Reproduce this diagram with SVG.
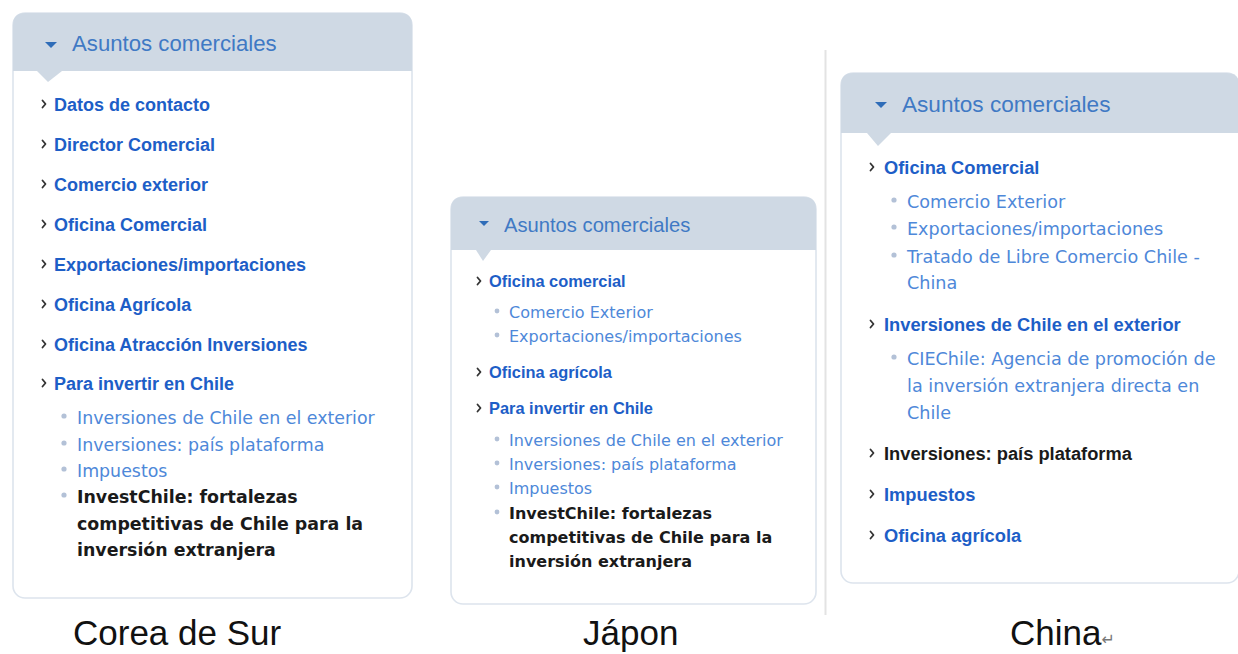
<svg xmlns="http://www.w3.org/2000/svg" width="1238" height="654" viewBox="0 0 1238 654">
<defs>
<style>
.panel{fill:#ffffff;stroke:#dde4ed;stroke-width:1.6}
.hdr{fill:#cfd9e4}
.harrow{fill:#2f6db8}
.htxt{font-family:"Liberation Sans",Arial,sans-serif;fill:#4079c4}
.main{font-family:"Liberation Sans",Arial,sans-serif;font-weight:bold;fill:#1d5ec7}
.mainb{font-family:"Liberation Sans",Arial,sans-serif;font-weight:bold;fill:#1a1a1a}
.sub{font-family:"DejaVu Sans",Verdana,sans-serif;fill:#4e88d9}
.subb{font-family:"DejaVu Sans",Verdana,sans-serif;font-weight:bold;fill:#1a1a1a}
.chev{fill:none;stroke:#333333;stroke-width:1.8;stroke-linecap:round;stroke-linejoin:round}
.bul{fill:#b3c1d7}
.cap{font-family:"Liberation Sans",Arial,sans-serif;font-size:35px;fill:#111111}
</style>
<path id="chv" class="chev" d="M-1.5,-3.5 L1.5,0 L-1.5,3.5"/>
</defs>
<rect width="1238" height="654" fill="#ffffff"/>
<line x1="825.5" y1="50" x2="825.5" y2="615" stroke="#e3e3e3" stroke-width="2"/>

<g id="corea">
<rect class="panel" x="13" y="13" width="399" height="585" rx="12"/>
<path class="hdr" d="M13,71 V25 Q13,13 25,13 H400 Q412,13 412,25 V71 Z"/>
<polygon class="hdr" points="37,71 62,71 48,82"/>
<polygon class="harrow" points="45,42 57,42 51,48"/>
<text class="htxt" x="72" y="51" font-size="22.2">Asuntos comerciales</text>
<g font-size="18">
<use href="#chv" x="44" y="104"/><text class="main" x="54" y="111">Datos de contacto</text>
<use href="#chv" x="44" y="144"/><text class="main" x="54" y="151">Director Comercial</text>
<use href="#chv" x="44" y="184"/><text class="main" x="54" y="191">Comercio exterior</text>
<use href="#chv" x="44" y="224"/><text class="main" x="54" y="231">Oficina Comercial</text>
<use href="#chv" x="44" y="264"/><text class="main" x="54" y="271">Exportaciones/importaciones</text>
<use href="#chv" x="44" y="304"/><text class="main" x="54" y="311">Oficina Agrícola</text>
<use href="#chv" x="44" y="344"/><text class="main" x="54" y="351">Oficina Atracción Inversiones</text>
<use href="#chv" x="44" y="383"/><text class="main" x="54" y="390">Para invertir en Chile</text>
</g>
<g font-size="17.4">
<circle class="bul" cx="64" cy="416" r="2.6"/><text class="sub" x="77" y="424">Inversiones de Chile en el exterior</text>
<circle class="bul" cx="64" cy="443" r="2.6"/><text class="sub" x="77" y="451">Inversiones: país plataforma</text>
<circle class="bul" cx="64" cy="469" r="2.6"/><text class="sub" x="77" y="477">Impuestos</text>
<circle class="bul" cx="64" cy="495" r="2.6"/><text class="subb" x="77" y="503">InvestChile: fortalezas</text>
<text class="subb" x="77" y="530">competitivas de Chile para la</text>
<text class="subb" x="77" y="556">inversión extranjera</text>
</g>
</g>

<g id="japon">
<rect class="panel" x="451" y="197" width="365" height="407" rx="12"/>
<path class="hdr" d="M451,250 V209 Q451,197 463,197 H804 Q816,197 816,209 V250 Z"/>
<polygon class="hdr" points="476,250 491,250 483,261"/>
<polygon class="harrow" points="479,221 489,221 484,226"/>
<text class="htxt" x="504" y="232" font-size="20.2">Asuntos comerciales</text>
<g font-size="16.4">
<use href="#chv" x="479" y="281"/><text class="main" x="489" y="287">Oficina comercial</text>
<use href="#chv" x="479" y="372"/><text class="main" x="489" y="378">Oficina agrícola</text>
<use href="#chv" x="479" y="408"/><text class="main" x="489" y="414">Para invertir en Chile</text>
</g>
<g font-size="16">
<circle class="bul" cx="497" cy="311" r="2.4"/><text class="sub" x="509" y="318">Comercio Exterior</text>
<circle class="bul" cx="497" cy="335" r="2.4"/><text class="sub" x="509" y="342">Exportaciones/importaciones</text>
<circle class="bul" cx="497" cy="439" r="2.4"/><text class="sub" x="509" y="446">Inversiones de Chile en el exterior</text>
<circle class="bul" cx="497" cy="463" r="2.4"/><text class="sub" x="509" y="470">Inversiones: país plataforma</text>
<circle class="bul" cx="497" cy="487" r="2.4"/><text class="sub" x="509" y="494">Impuestos</text>
<circle class="bul" cx="497" cy="512" r="2.4"/><text class="subb" x="509" y="519">InvestChile: fortalezas</text>
<text class="subb" x="509" y="543">competitivas de Chile para la</text>
<text class="subb" x="509" y="567">inversión extranjera</text>
</g>
</g>

<g id="china">
<rect class="panel" x="841" y="73" width="398" height="510" rx="12"/>
<path class="hdr" d="M841,133 V85 Q841,73 853,73 H1227 Q1239,73 1239,85 V133 Z"/>
<polygon class="hdr" points="867,133 891,133 878,146"/>
<polygon class="harrow" points="875,102 887,102 881,108"/>
<text class="htxt" x="902" y="112" font-size="22.6">Asuntos comerciales</text>
<g font-size="18.3">
<use href="#chv" x="872" y="167"/><text class="main" x="884" y="174">Oficina Comercial</text>
<use href="#chv" x="872" y="324"/><text class="main" x="884" y="331">Inversiones de Chile en el exterior</text>
<use href="#chv" x="872" y="453"/><text class="mainb" x="884" y="460">Inversiones: país plataforma</text>
<use href="#chv" x="872" y="494"/><text class="main" x="884" y="501">Impuestos</text>
<use href="#chv" x="872" y="535"/><text class="main" x="884" y="542">Oficina agrícola</text>
</g>
<g font-size="17.6">
<circle class="bul" cx="894" cy="200" r="2.6"/><text class="sub" x="907" y="208">Comercio Exterior</text>
<circle class="bul" cx="894" cy="227" r="2.6"/><text class="sub" x="907" y="235">Exportaciones/importaciones</text>
<circle class="bul" cx="894" cy="255" r="2.6"/><text class="sub" x="907" y="263">Tratado de Libre Comercio Chile -</text>
<text class="sub" x="907" y="289">China</text>
<circle class="bul" cx="894" cy="357" r="2.6"/><text class="sub" x="907" y="365">CIEChile: Agencia de promoción de</text>
<text class="sub" x="907" y="392">la inversión extranjera directa en</text>
<text class="sub" x="907" y="419">Chile</text>
</g>
</g>

<g id="captions">
<text class="cap" x="73" y="645">Corea de Sur</text>
<text class="cap" x="583" y="645">Jápon</text>
<text class="cap" x="1010" y="645">China<tspan font-family="'DejaVu Sans',sans-serif" font-size="16" fill="#777777">↵</tspan></text>
</g>
</svg>
